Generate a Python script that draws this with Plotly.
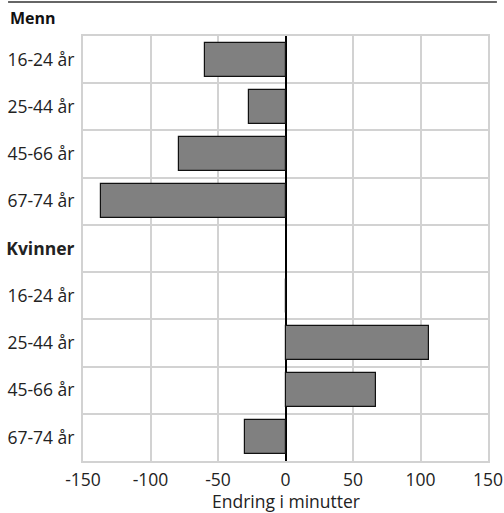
import plotly.graph_objects as go

categories = ["16-24 år", "25-44 år", "45-66 år", "67-74 år", "<b>Kvinner</b>",
              "16-24 år", "25-44 år", "45-66 år", "67-74 år"]
values = [-60, -27, -79, -137, None, 0, 106, 67, -30]
x_ticks = [-150, -100, -50, 0, 50, 100, 150]
x_ticklabels = ["-150", "-100", "-50", "0", "50", "100", "150"]
group_title = "Menn"
x_title = "Endring i minutter"

positions = list(range(len(categories)))
FONT = "Open Sans, Noto Sans, sans-serif"
GRID = "#d2d2d2"

fig = go.Figure(go.Bar(
    x=values, y=positions, orientation="h", width=0.72,
    marker=dict(color="#808080", line=dict(color="#111111", width=1.2)),
))

fig.update_layout(
    autosize=True,
    margin=dict(l=83, r=16, t=36, b=52),
    plot_bgcolor="white", paper_bgcolor="white",
    font=dict(family=FONT, size=17.5, color="#222222"),
    showlegend=False,
    bargap=0,
)
fig.update_xaxes(
    range=[-150, 150], tickvals=x_ticks, ticktext=x_ticklabels,
    showgrid=True, gridcolor=GRID, gridwidth=2,
    zeroline=True, zerolinecolor="black", zerolinewidth=2,
    showline=True, linecolor=GRID, linewidth=2, mirror=True,
    ticks="", ticklabelstandoff=2,
    tickfont=dict(size=17.5),
    automargin=False,
)
fig.update_yaxes(
    range=[len(categories) - 0.5, -0.5],
    tickvals=positions, ticktext=categories,
    showgrid=False, zeroline=False,
    showline=True, linecolor=GRID, linewidth=2, mirror=True,
    ticks="", ticklabelstandoff=3,
    minor=dict(tick0=0.5, dtick=1, showgrid=True, gridcolor=GRID, gridwidth=2),
    tickfont=dict(size=17.5),
    automargin=False,
)
fig.add_shape(type="line", xref="paper", yref="paper",
              x0=-0.185, x1=1.022, y0=1.08, y1=1.08,
              line=dict(color="#666666", width=2))
fig.add_annotation(text="<b>" + group_title + "</b>", xref="paper", yref="paper",
                   x=-0.185, y=1.042, xanchor="left", yanchor="middle",
                   showarrow=False, font=dict(size=16, color="#111111"))
fig.add_annotation(text=x_title, xref="paper", yref="paper",
                   x=0.5, y=-0.093, xanchor="center", yanchor="middle",
                   showarrow=False, font=dict(size=17.5, color="#222222"))

fig.write_html(
    "out.html",
    config={"displayModeBar": False, "responsive": True},
    default_width="100vw", default_height="100vh",
    post_script=("document.documentElement.style.overflow='hidden';"
                 "document.body.style.margin='0';document.body.style.overflow='hidden';"
                 "Plotly.Plots.resize(document.getElementById('{plot_id}'));"),
)
